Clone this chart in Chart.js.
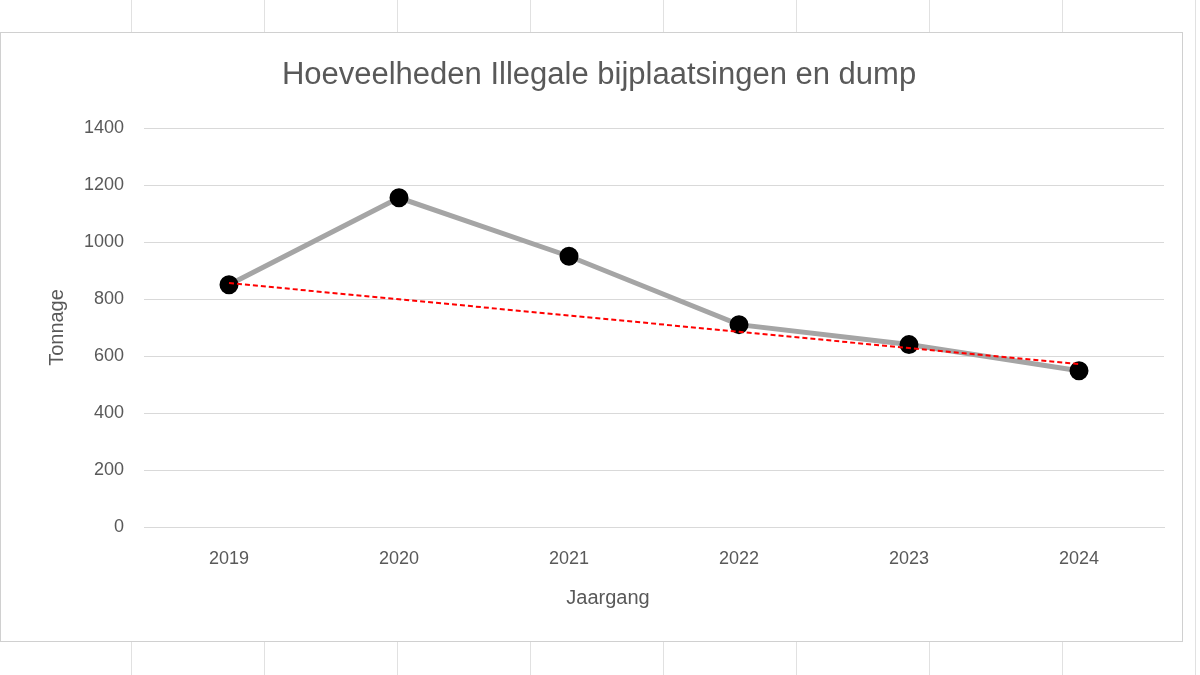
<!DOCTYPE html>
<html><head><meta charset="utf-8">
<script src="https://cdn.jsdelivr.net/npm/chart.js@4"></script>
<style>
body{margin:0;width:1200px;height:675px;background:#fff;position:relative;overflow:hidden;font-family:"Liberation Sans",sans-serif}
.vl{position:absolute;top:0;width:1px;height:675px;background:#e1e1e1}
#box{position:absolute;left:0;top:32px;width:1181px;height:608px;border:1px solid #d0d0d0;background:#fff}
canvas{display:block}
</style></head><body>
<div class="vl" style="left:131px"></div><div class="vl" style="left:264px"></div><div class="vl" style="left:397px"></div><div class="vl" style="left:530px"></div><div class="vl" style="left:663px"></div><div class="vl" style="left:796px"></div><div class="vl" style="left:929px"></div><div class="vl" style="left:1062px"></div><div class="vl" style="left:1195px"></div>
<div id="box"><canvas id="c" width="1181" height="608"></canvas></div>
<script>
const years = ["2019","2020","2021","2022","2023","2024"];
const tonnage = [850, 1155, 950, 710, 640, 548];
const trend = [856, 799, 742, 685, 628, 572];
const titleText = "Hoeveelheden Illegale bijplaatsingen en dump";
const xTitle = "Jaargang";
const grey = "#595959";
const titlePlugin = {id:"t",afterDraw(ch){const c=ch.ctx;c.save();c.fillStyle=grey;c.textAlign="center";c.textBaseline="middle";
 c.font="31px 'Liberation Sans', sans-serif";c.fillText(titleText,598,42);
 c.font="20px 'Liberation Sans', sans-serif";c.fillText(xTitle,607,565);c.restore();}};
new Chart(document.getElementById("c"),{
 type:"line",
 data:{labels:years,datasets:[
  {data:tonnage,borderColor:"#a5a5a5",borderWidth:5,pointRadius:7,pointHoverRadius:7,pointBackgroundColor:"#000",pointBorderColor:"#000",tension:0,order:2},
  {data:trend,borderColor:"#ff0000",borderWidth:2,borderDash:[5,3],pointRadius:0,tension:0,order:1}
 ]},
 options:{responsive:false,animation:false,
  layout:{padding:{top:95,left:40,right:18,bottom:30}},
  plugins:{legend:{display:false},tooltip:{enabled:false}},
  scales:{
   x:{offset:true,grid:{display:false,drawTicks:false},border:{color:"#d9d9d9"},
      ticks:{color:grey,font:{size:18,family:"Liberation Sans"},padding:21},
      afterFit(s){s.height=84;}},
   y:{min:0,max:1400,ticks:{stepSize:200,color:grey,font:{size:18,family:"Liberation Sans"},padding:20,callback:v=>String(v)},
      grid:{color:"#d9d9d9",drawTicks:false},border:{display:false},
      title:{display:true,text:"Tonnage",color:grey,font:{size:20,family:"Liberation Sans"}},
      afterFit(s){s.width=103;}}
  }},
 plugins:[titlePlugin]
});
</script></body></html>
